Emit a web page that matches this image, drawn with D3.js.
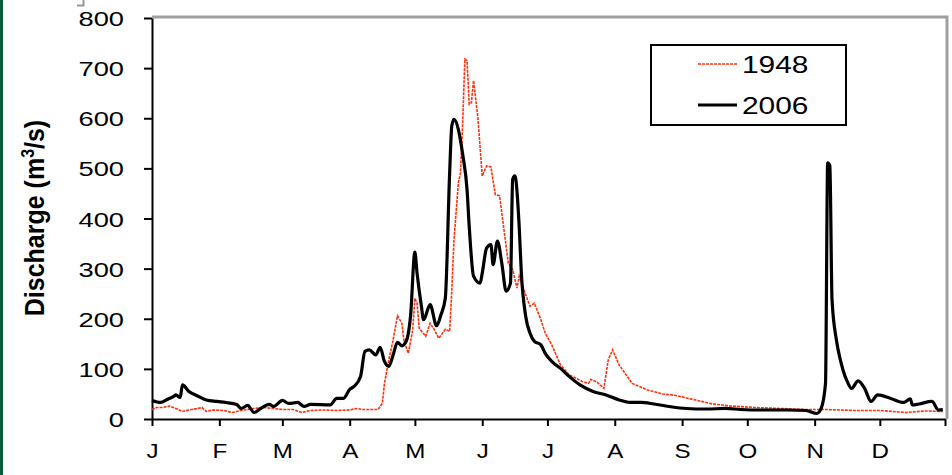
<!DOCTYPE html>
<html>
<head>
<meta charset="utf-8">
<script src="https://d3js.org/d3.v7.min.js"></script>
<style>
  body { margin: 0; background: #fff; }
  svg { display: block; font-family: "Liberation Sans", Arial, sans-serif; }
</style>
</head>
<body>
<div id="chart"></div>
<script>
// month letters and the day index where each month starts (last = year end)
var months = ['J', 'F', 'M', 'A', 'M', 'J', 'J', 'A', 'S', 'O', 'N', 'D'];
var monthStarts = [0, 31, 60, 91, 121, 152, 182, 213, 244, 274, 305, 335, 365];
var yTicks = [0, 100, 200, 300, 400, 500, 600, 700, 800];

// 1948 daily discharge (day of year, m3/s)
var days1948 = [0, 2, 5, 8, 11, 14, 17, 21, 23, 25, 28, 33, 37, 42, 47, 51, 56, 60, 65, 69, 73, 79, 85, 91, 94, 97, 104,
  106, 107, 109, 111, 113, 115, 116, 118, 120, 121, 122, 123, 126, 128, 130, 132, 135, 137, 138, 139, 141, 142, 143,
  144, 145, 146, 147, 148, 150, 152, 154, 156, 158, 160, 162, 164, 166, 168, 169, 172, 174, 176, 179, 181, 184, 188,
  192, 198, 201, 202, 205, 208, 210, 212, 215, 221, 228, 235, 241, 251, 258, 266, 277, 289, 301, 310, 323, 335, 347,
  356, 364];
var flow1948 = [19, 23, 23, 26, 21, 15, 18, 21, 23, 15, 18, 17, 13, 18, 21, 23, 21, 19, 19, 13, 17, 18, 17, 18, 21, 19, 19,
  31, 71, 118, 158, 206, 191, 155, 131, 178, 241, 231, 181, 165, 191, 178, 161, 179, 175, 258, 358, 471, 491, 591,
  718, 715, 628, 631, 675, 601, 485, 505, 503, 448, 445, 378, 311, 298, 261, 285, 248, 225, 231, 198, 171, 148, 108,
  88, 75, 71, 79, 73, 61, 118, 138, 108, 71, 58, 50, 47, 37, 30, 26, 23, 21, 19, 19, 17, 17, 13,
  16, 15];

// 2006 daily discharge
var days2006 = [0, 4, 7, 10, 11, 13, 14, 17, 21, 25, 30, 34, 39, 41, 44, 47, 50, 54, 56, 60, 63, 67, 70, 73, 82, 85, 88,
  91, 93, 96, 98, 100, 103, 105, 107, 109, 111, 113, 115, 117, 119, 121, 122, 124, 125, 128, 131, 133, 135, 137, 138,
  139, 141, 143, 145, 146, 148, 151, 152, 154, 156, 157, 159, 161, 163, 165, 166, 167, 169, 170, 172, 174, 176, 179,
  181, 184, 188, 192, 197, 203, 209, 215, 220, 225, 231, 238, 246, 255, 264, 271, 280, 292, 301, 306, 308, 310, 311,
  312, 313, 315, 317, 319, 320, 322, 325, 328, 331, 334, 340, 346, 349, 350, 353, 359, 362, 364];
var flow2006 = [37, 33, 39, 45, 48, 43, 68, 55, 46, 38, 35, 33, 29, 21, 27, 13, 21, 29, 25, 37, 31, 33, 25, 29, 28, 41, 41,
  59, 65, 85, 135, 138, 128, 143, 115, 105, 128, 153, 146, 155, 205, 333, 291, 225, 198, 228, 186, 208, 241, 491, 585,
  598, 578, 528, 458, 385, 285, 271, 291, 341, 348, 308, 355, 311, 255, 271, 478, 485, 385, 291, 205, 171, 155, 148,
  131, 115, 101, 85, 68, 55, 48, 38, 33, 33, 30, 25, 21, 20, 21, 19, 18, 18, 17, 11, 21, 71, 511,
  505, 238, 158, 115, 85, 75, 61, 76, 61, 35, 48, 41, 33, 40, 28, 30, 35, 18, 19];

var width = 952, height = 475;
var svg = d3.select('#chart').append('svg')
    .attr('width', width)
    .attr('height', height);

var x = d3.scaleLinear().domain([0, 365]).range([152, 945]);
var y = d3.scaleLinear().domain([0, 800]).range([419, 18]);

// page furniture: green edge, stray corner, plot area border
svg.append('rect').attr('x', 0).attr('y', 0).attr('width', 3).attr('height', height).attr('fill', '#0a5c3c');
svg.append('path').attr('d', 'M77,5.5H83.5V0').attr('fill', 'none').attr('stroke', '#9a9a9a').attr('stroke-width', 2);
svg.append('path')
    .attr('d', 'M' + x(0) + ',' + (y(800) - 1) + 'H947V' + y(0))
    .attr('fill', 'none').attr('stroke', '#a0a0a0').attr('stroke-width', 3);

// y axis
var yAxis = svg.append('g')
    .attr('transform', 'translate(' + x(0) + ',0)')
    .call(d3.axisLeft(y).tickValues(yTicks).tickSize(8).tickSizeOuter(0));
yAxis.select('.domain').attr('stroke-width', 2);
yAxis.selectAll('.tick line').attr('stroke-width', 2);
yAxis.selectAll('.tick text')
    .attr('font-size', 21)
    .attr('font-family', '"Liberation Sans", Arial, sans-serif')
    .attr('fill', '#000')
    .attr('x', -28 / 1.3)
    .attr('dy', '0.36em')
    .attr('transform', 'scale(1.3,1)');

// x axis with month letters
var xAxis = svg.append('g')
    .attr('transform', 'translate(0,' + y(0) + ')')
    .call(d3.axisBottom(x).tickValues(monthStarts).tickSize(7).tickSizeOuter(0)
        .tickFormat(function (d, i) { return months[i] || ''; }));
xAxis.select('.domain').attr('stroke-width', 2);
xAxis.selectAll('.tick line').attr('stroke-width', 2);
xAxis.selectAll('.tick text')
    .attr('font-size', 21)
    .attr('font-family', '"Liberation Sans", Arial, sans-serif')
    .attr('fill', '#000')
    .attr('y', 39)
    .attr('dy', 0)
    .attr('transform', 'scale(1.15,1)');

// y axis title
var title = svg.append('text')
    .attr('transform', 'translate(44,218) rotate(-90) scale(1,1.12)')
    .attr('text-anchor', 'middle')
    .attr('font-size', 25)
    .attr('font-weight', 'bold')
    .attr('fill', '#000');
title.append('tspan').text('Discharge (m');
title.append('tspan').attr('font-size', 16).attr('dy', -9).text('3');
title.append('tspan').attr('dy', 9).text('/s)');

// series
var line1948 = d3.line()
    .x(function (d, i) { return x(days1948[i]); })
    .y(function (d) { return y(d); });
var line2006 = d3.line()
    .curve(d3.curveMonotoneX)
    .x(function (d, i) { return x(days2006[i]); })
    .y(function (d) { return y(d); });

svg.append('path')
    .datum(flow1948)
    .attr('d', line1948)
    .attr('fill', 'none')
    .attr('stroke', '#ff3010')
    .attr('stroke-width', 1.6)
    .attr('stroke-dasharray', '3,1');

svg.append('path')
    .datum(flow2006)
    .attr('d', line2006)
    .attr('fill', 'none')
    .attr('stroke', '#000')
    .attr('stroke-width', 3.2)
    .attr('stroke-linejoin', 'round');

// legend
var legend = svg.append('g');
legend.append('rect')
    .attr('x', 651).attr('y', 45).attr('width', 195).attr('height', 80)
    .attr('fill', '#fff').attr('stroke', '#000').attr('stroke-width', 2);
var items = [
    { label: '1948', color: '#ff3010', w: 1.6, dash: '3,1', y: 64 },
    { label: '2006', color: '#000', w: 3, dash: null, y: 105 }
];
items.forEach(function (it) {
    legend.append('line')
        .attr('x1', 698).attr('x2', 737).attr('y1', it.y).attr('y2', it.y)
        .attr('stroke', it.color).attr('stroke-width', it.w)
        .attr('stroke-dasharray', it.dash);
    legend.append('text')
        .attr('transform', 'translate(742,' + (it.y + 9) + ') scale(1.3,1)')
        .attr('font-size', 23)
        .attr('fill', '#000')
        .text(it.label);
});
</script>
</body>
</html>
